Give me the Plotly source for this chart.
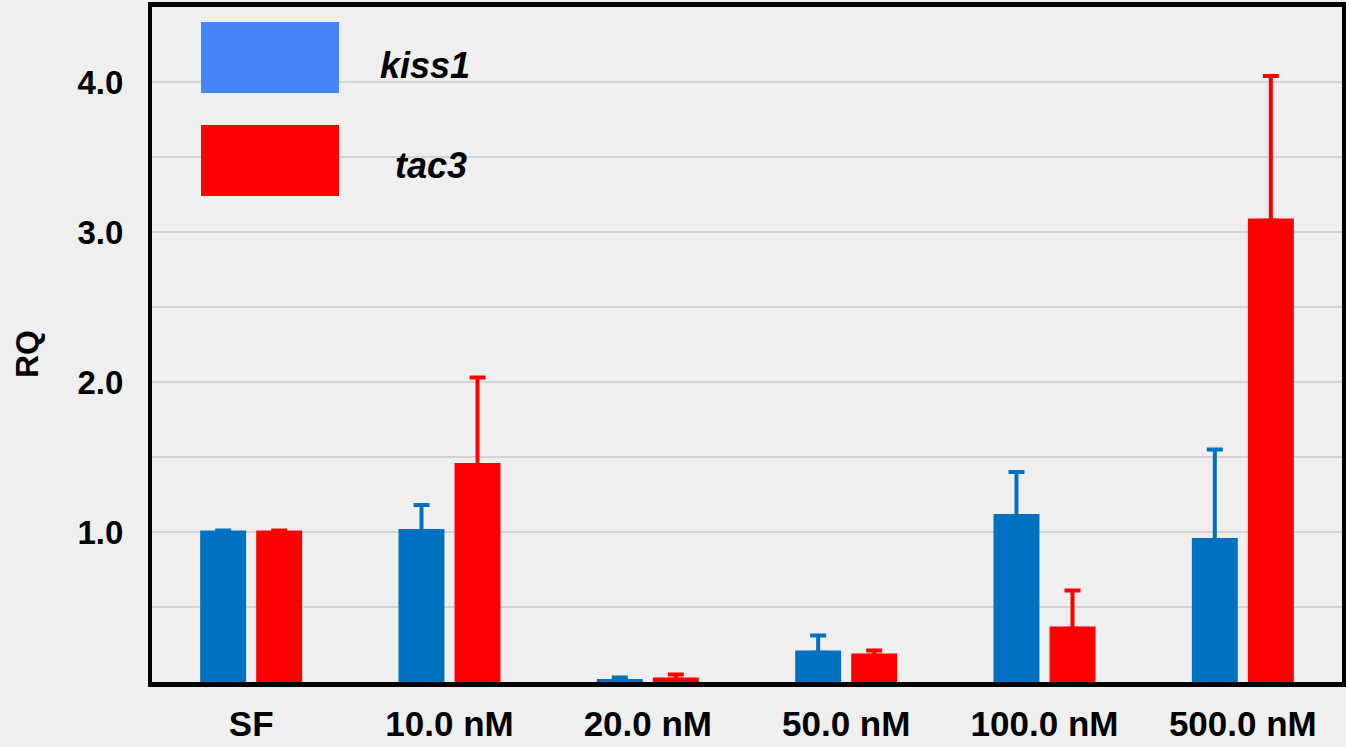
import plotly.graph_objects as go

categories = ["SF", "10.0 nM", "20.0 nM", "50.0 nM", "100.0 nM", "500.0 nM"]
kiss1 = [1.01, 1.02, 0.02, 0.21, 1.12, 0.96]
kiss1_err = [None, 0.16, 0.01, 0.10, 0.28, 0.59]
tac3 = [1.01, 1.46, 0.03, 0.19, 0.37, 3.09]
tac3_err = [None, 0.57, 0.02, 0.02, 0.24, 0.95]
ytick_vals = [0.5, 1.0, 1.5, 2.0, 2.5, 3.0, 3.5, 4.0]
ytick_text = ["", "1.0", "", "2.0", "", "3.0", "", "4.0"]
series_names = ["kiss1", "tac3"]

W, H = 1346, 747
ML, MR, MT, MB = 152, 4, 7, 65
BLUE = "#0070C0"
RED = "#FF0000"
LEG_BLUE = "#4285F4"
FONT = "Liberation Sans, Arial, sans-serif"


def lower(vals, errs):
    # hide the lower cross-bar inside the bar
    return [0 if e is None else min(0.015, v) for v, e in zip(vals, errs)]


fig = go.Figure()
fig.add_trace(go.Bar(
    x=categories, y=kiss1, name=series_names[0], marker=dict(color=BLUE, line=dict(width=0)),
    error_y=dict(type="data", symmetric=False, array=kiss1_err, arrayminus=lower(kiss1, kiss1_err),
                 color=BLUE, thickness=4, width=8),
))
fig.add_trace(go.Bar(
    x=categories, y=tac3, name=series_names[1], marker=dict(color=RED, line=dict(width=0)),
    error_y=dict(type="data", symmetric=False, array=tac3_err, arrayminus=lower(tac3, tac3_err),
                 color=RED, thickness=4, width=8),
))

pw = W - ML - MR
ph = H - MT - MB


def px_x(p):
    return (p - ML) / pw


def px_y(p):
    return (H - MB - p) / ph


# legend swatches (decoration)
for (y0, y1, col, lab, lx, ly) in [(22, 93, LEG_BLUE, series_names[0], 425, 65),
                                     (125, 196, RED, series_names[1], 431, 166)]:
    fig.add_shape(type="rect", xref="paper", yref="paper",
                  x0=px_x(201), x1=px_x(339), y0=px_y(y1), y1=px_y(y0),
                  fillcolor=col, line=dict(width=0), layer="above")
    fig.add_annotation(xref="paper", yref="paper", x=px_x(lx), y=px_y(ly),
                       text="<b><i>%s</i></b>" % lab, showarrow=False,
                       font=dict(family=FONT, size=36, color="black"),
                       xanchor="center", yanchor="middle")

# y-axis title
fig.add_annotation(xref="paper", yref="paper", x=px_x(27), y=px_y(354),
                   text="<b>RQ</b>", showarrow=False, textangle=-90,
                   font=dict(family=FONT, size=32, color="black"),
                   xanchor="center", yanchor="middle")

fig.update_layout(
    width=W, height=H,
    margin=dict(l=ML, r=MR, t=MT, b=MB),
    paper_bgcolor="#EFEFEF", plot_bgcolor="#EFEFEF",
    barmode="group", bargap=0.435, bargroupgap=0.18,
    showlegend=False,
    font=dict(family=FONT, color="black"),
)
fig.update_xaxes(
    showline=True, linecolor="black", linewidth=5, mirror=True, automargin=False,
    showgrid=False, ticks="", ticklabelstandoff=7,
    tickfont=dict(family=FONT, size=35, color="black", weight="bold"),
)
fig.update_yaxes(
    range=[0, 4.5], showline=True, linecolor="black", linewidth=4, mirror=True, automargin=False,
    tickvals=ytick_vals, ticktext=ytick_text, showgrid=True, gridcolor="#D2D2D2", gridwidth=2,
    zeroline=False, ticks="", ticklabelstandoff=18,
    tickfont=dict(family=FONT, size=33, color="black", weight="bold"),
)

fig.write_html("out.html")
